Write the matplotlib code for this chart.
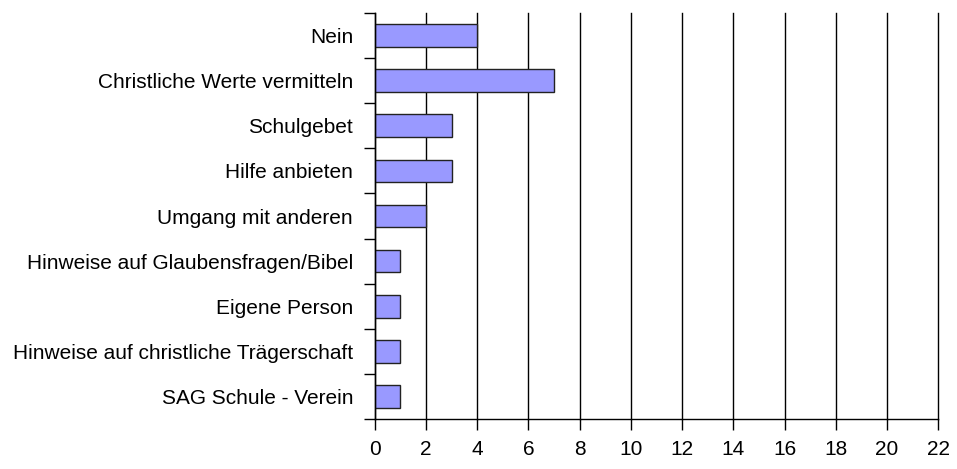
import matplotlib
matplotlib.use("Agg")
import matplotlib.pyplot as plt

categories = ["Nein", "Christliche Werte vermitteln", "Schulgebet", "Hilfe anbieten",
              "Umgang mit anderen", "Hinweise auf Glaubensfragen/Bibel", "Eigene Person",
              "Hinweise auf christliche Trägerschaft", "SAG Schule - Verein"]
values = [4, 7, 3, 3, 2, 1, 1, 1, 1]
xticks = [0, 2, 4, 6, 8, 10, 12, 14, 16, 18, 20, 22]

plt.rcParams['font.family'] = ['Liberation Sans', 'DejaVu Sans']

fig = plt.figure(figsize=(9.57, 4.69), dpi=100)
ax = fig.add_axes([374.7/957, 1-419.3/469, (938.3-374.7)/957, (419.3-12.7)/469])

n = len(categories)
ypos = list(range(n))
ax.barh(ypos, values, height=0.5, color="#9999FF", edgecolor="#222222", linewidth=1, zorder=3)
ax.set_ylim(n - 0.5, -0.5)
ax.set_xlim(0, 22)
ax.set_xticks(xticks)
ax.set_xticklabels([str(t) for t in xticks], fontsize=15)
ax.set_yticks(ypos)
ax.set_yticklabels(categories, fontsize=15)
ax.tick_params(axis='y', length=0, pad=15.6)
# boundary ticks
ax.set_yticks([i - 0.5 for i in range(n + 1)], minor=True)
ax.tick_params(axis='y', which='minor', length=8, width=1, color='black', direction='out')
ax.tick_params(axis='x', length=8, width=1, direction='out', pad=7)
ax.xaxis.grid(True, color='black', linewidth=1, zorder=0)
for gl in ax.get_xgridlines():
    gl.set_clip_on(False)
ax.set_axisbelow(True)
for s in ['top', 'right']:
    ax.spines[s].set_visible(False)
for s in ['left', 'bottom']:
    ax.spines[s].set_linewidth(1)
    ax.spines[s].set_color('black')
    ax.spines[s].set_zorder(4)

fig.savefig("out.png", dpi=100)
